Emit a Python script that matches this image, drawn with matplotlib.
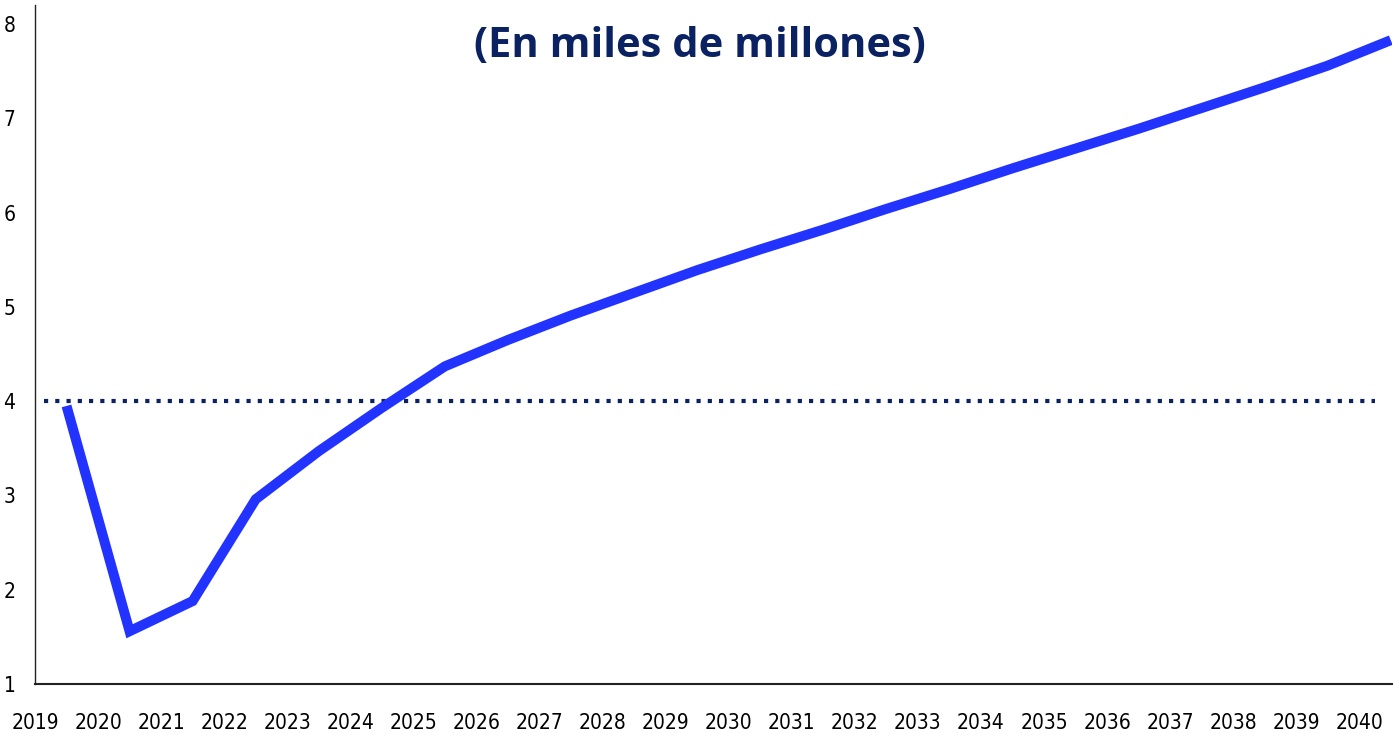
import numpy as np
import matplotlib
matplotlib.use("Agg")
import matplotlib.pyplot as plt

# years are plotted at mid-year, labels sit on the integer years
years = np.arange(2019, 2041)
values = [3.95, 1.56, 1.88, 2.96, 3.47, 3.93, 4.37, 4.65, 4.91, 5.15, 5.39,
          5.61, 5.82, 6.04, 6.25, 6.47, 6.68, 6.89, 7.11, 7.33, 7.56, 7.83]
reference_level = 4
tick_labels = [str(y) for y in years]
yticks = [1, 2, 3, 4, 5, 6, 7, 8]

tick_font = ['Liberation Sans Narrow', 'DejaVu Sans']
navy = '#0b2262'

fig = plt.figure(figsize=(13.94, 7.33), dpi=100)
ax = fig.add_axes([0.0251, 0.0668, 0.9735, 0.926])

ax.plot(years + 0.5, values, color='#2233ff', linewidth=7.2, solid_joinstyle='miter',
        solid_capstyle='butt', zorder=3)
ax.hlines(reference_level, 2019.15, 2040.25, colors=navy, linestyles=(0, (1, 1.7)),
          linewidth=3, zorder=2)

ax.set_xlim(2019, 2040.52)
ax.set_ylim(1, 8.2)
ax.set_xticks(years)
ax.set_xticklabels(tick_labels, family=tick_font, fontstretch='condensed', fontsize=15)
ax.set_yticks(yticks)
ax.set_yticklabels([str(v) for v in yticks], family=tick_font, fontstretch='condensed',
                   fontsize=15)
ax.tick_params(axis='x', length=0, pad=21)
ax.tick_params(axis='y', length=0, pad=14)

for side in ['top', 'right']:
    ax.spines[side].set_visible(False)
ax.spines['left'].set_linewidth(1)
ax.spines['bottom'].set_linewidth(1.5)
ax.spines['left'].set_color('#222222')
ax.spines['bottom'].set_color('#222222')

fig.text(0.502, 0.936, '(En miles de millones)', ha='center', va='center',
         family=['Open Sans', 'DejaVu Sans'], fontweight='bold', fontsize=30, color=navy)

fig.savefig('out.png', dpi=100)
